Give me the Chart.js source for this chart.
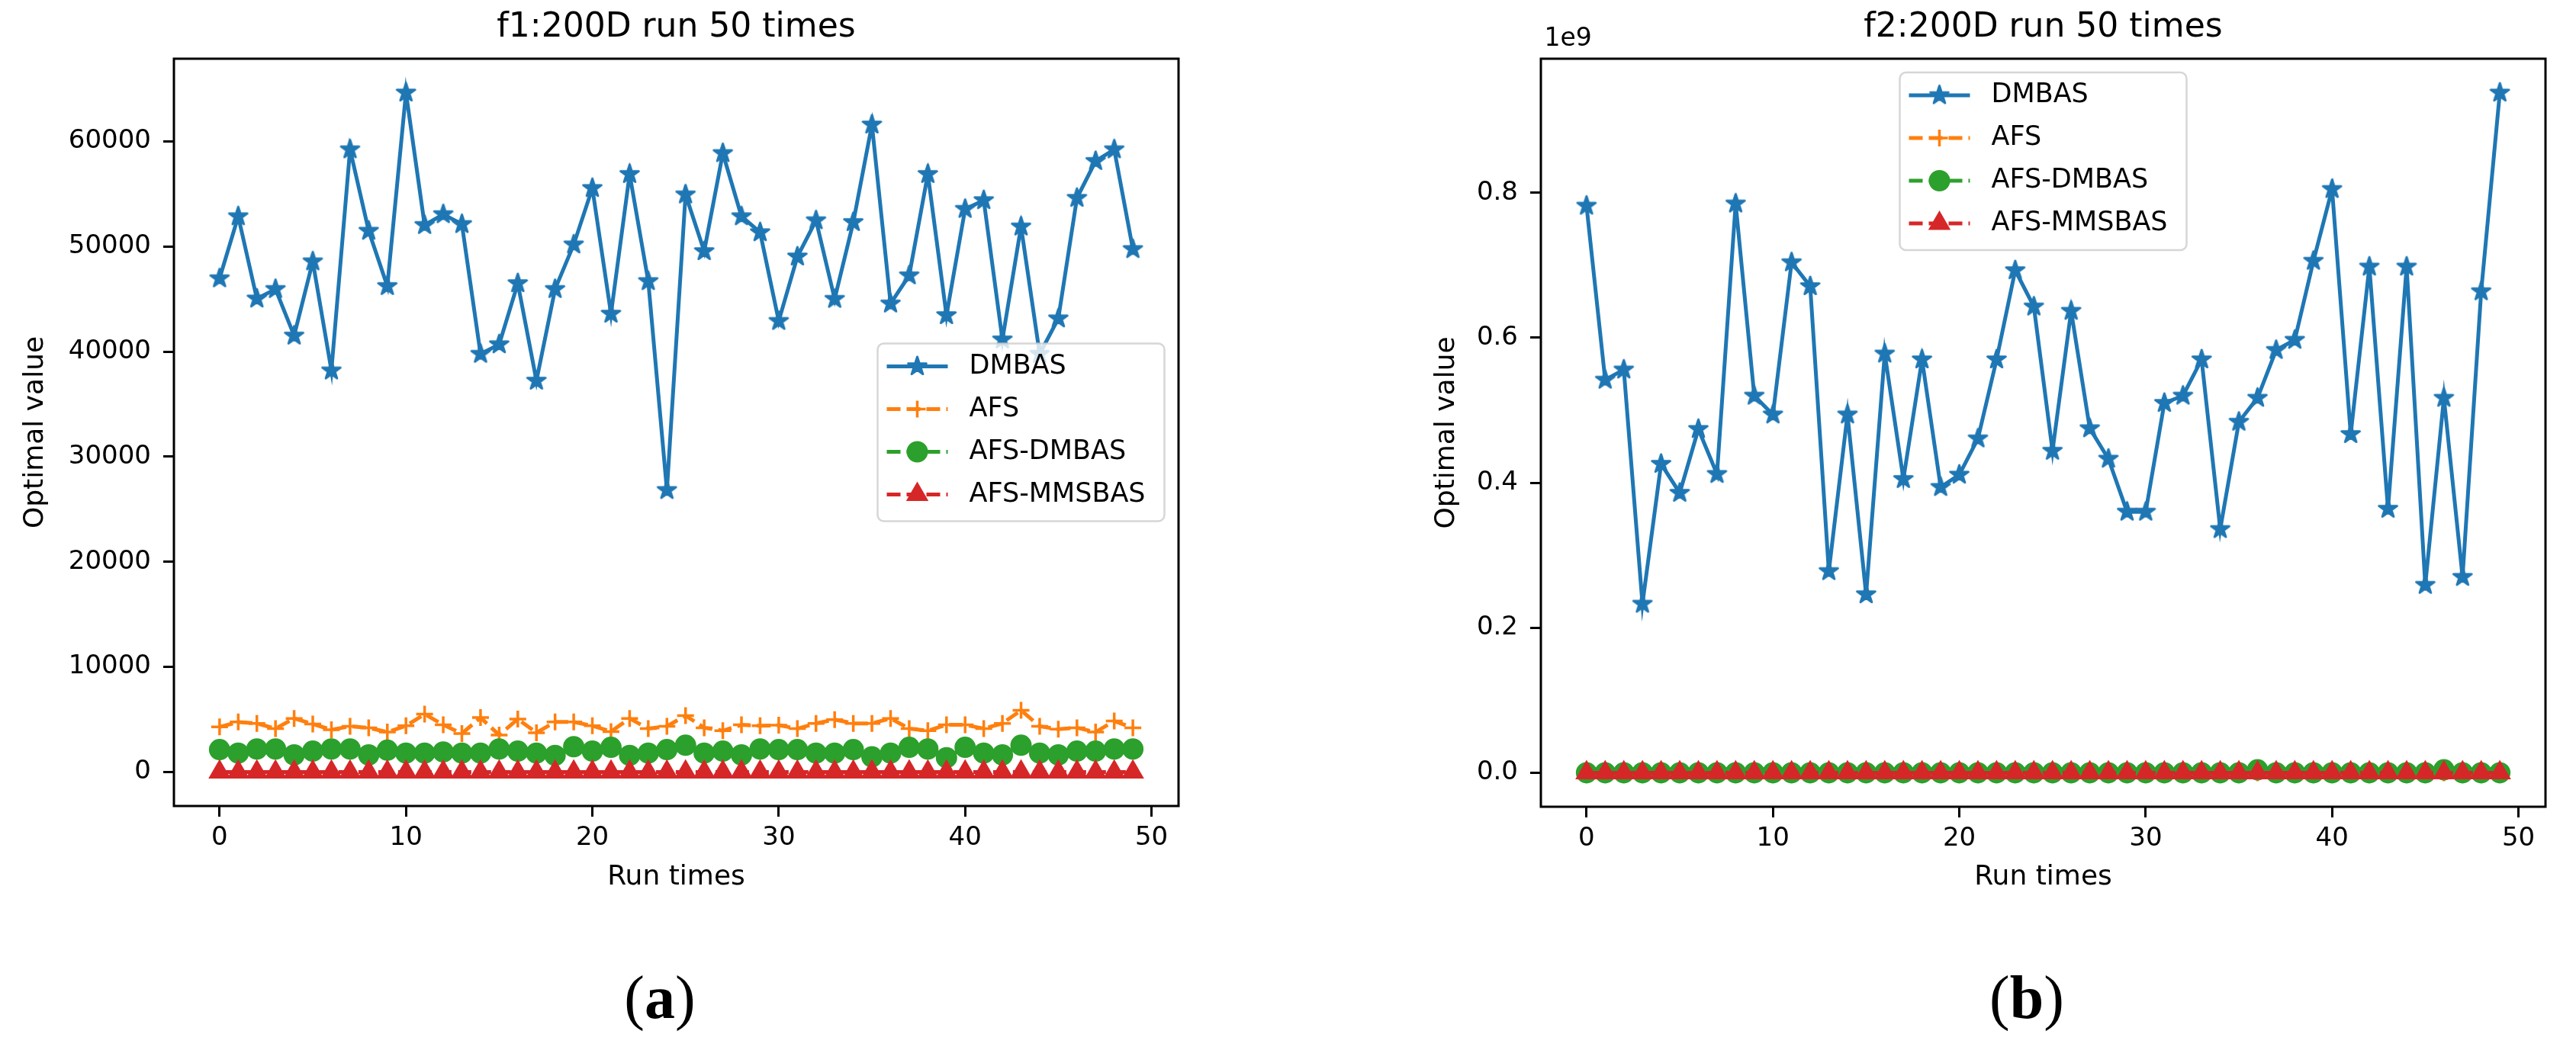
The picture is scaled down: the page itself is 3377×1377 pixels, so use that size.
<!DOCTYPE html>
<html>
<head>
<meta charset="utf-8">
<script src="https://cdn.jsdelivr.net/npm/chart.js@4.4.1/dist/chart.umd.min.js"></script>
<style>
  body { margin: 0; background: #fff; width: 3377px; height: 1377px; position: relative; overflow: hidden; }
  canvas { position: absolute; top: 0; }
  #c1 { left: 0; }
  #c2 { left: 1700px; }
  .cap { position: absolute; top: 1268px; width: 200px; text-align: center; font-family: "Liberation Serif", serif; font-size: 80px; line-height: 80px; color: #000; }
</style>
</head>
<body>
<canvas id="c1" width="1700" height="1200"></canvas>
<canvas id="c2" width="1677" height="1200"></canvas>
<div class="cap" style="left:765px">(<b>a</b>)</div>
<div class="cap" style="left:2557px">(<b>b</b>)</div>
<script>
const runs = [0, 1, 2, 3, 4, 5, 6, 7, 8, 9, 10, 11, 12, 13, 14, 15, 16, 17, 18, 19,
  20, 21, 22, 23, 24, 25, 26, 27, 28, 29, 30, 31, 32, 33, 34, 35, 36, 37, 38, 39,
  40, 41, 42, 43, 44, 45, 46, 47, 48, 49];
const seriesNames = ["DMBAS", "AFS", "AFS-DMBAS", "AFS-MMSBAS"];

// f1, 200D
const f1Dmbas = [46970, 52870, 45040, 45950, 41520, 48580, 38200, 59240, 51490, 46230,
  64640, 52040, 53070, 52130, 39780, 40690, 46500, 37230, 45950, 50190,
  55560, 43600, 56890, 46700, 26820, 54950, 49550, 58880, 52870, 51350,
  42910, 49040, 52490, 45010, 52320, 61600, 44570, 47250, 56890, 43460,
  53570, 54400, 41150, 51900, 39780, 43150, 54620, 58130, 59240, 49750];
const f1Afs = [4290, 4760, 4630, 4130, 5100, 4570, 4020, 4350, 4210, 3800,
  4400, 5510, 4490, 3660, 5180, 3520, 5040, 3740, 4760, 4760,
  4400, 3850, 5100, 4130, 4350, 5370, 4210, 3930, 4490, 4400,
  4450, 4130, 4630, 4990, 4630, 4630, 5100, 4130, 3930, 4490,
  4490, 4130, 4630, 5870, 4350, 4070, 4210, 3800, 4850, 4210];
const f1AfsDmbas = [2130, 1800, 2190, 2190, 1630, 1990, 2190, 2190, 1630, 2080,
  1800, 1800, 1910, 1800, 1800, 2190, 1990, 1800, 1580, 2410,
  1990, 2350, 1580, 1800, 2130, 2550, 1800, 1990, 1630, 2190,
  2130, 2130, 1800, 1800, 2130, 1440, 1800, 2350, 2190, 1360,
  2350, 1800, 1630, 2550, 1800, 1630, 1990, 1990, 2190, 2190];
const f1AfsMmsbas = [0, 0, 0, 0, 0, 0, 0, 0, 0, 0,
  0, 0, 0, 0, 0, 0, 0, 0, 0, 0,
  0, 0, 0, 0, 0, 0, 0, 0, 0, 0,
  0, 0, 0, 0, 0, 0, 0, 0, 0, 0,
  0, 0, 0, 0, 0, 0, 0, 0, 0, 0];

// f2, 200D (values in units of 1e9)
const f2Dmbas = [0.782, 0.542, 0.556, 0.233, 0.426, 0.386, 0.474, 0.412, 0.785, 0.520,
  0.494, 0.704, 0.671, 0.278, 0.494, 0.246, 0.578, 0.405, 0.570, 0.394,
  0.411, 0.461, 0.570, 0.693, 0.643, 0.444, 0.637, 0.475, 0.433, 0.360,
  0.360, 0.510, 0.520, 0.570, 0.336, 0.484, 0.517, 0.583, 0.597, 0.706,
  0.805, 0.467, 0.698, 0.364, 0.698, 0.259, 0.517, 0.270, 0.664, 0.938];
const f2Afs = [0, 0, 0, 0, 0, 0, 0, 0, 0, 0,
  0, 0, 0, 0, 0, 0, 0, 0, 0, 0,
  0, 0, 0, 0, 0, 0, 0, 0, 0, 0,
  0, 0, 0, 0, 0, 0, 0, 0, 0, 0,
  0, 0, 0, 0, 0, 0, 0, 0, 0, 0];
const f2AfsDmbas = [0, 0, 0, 0, 0, 0, 0, 0, 0, 0,
  0, 0, 0, 0, 0, 0, 0, 0, 0, 0,
  0, 0, 0, 0, 0, 0, 0, 0, 0, 0,
  0, 0, 0, 0, 0, 0, 0.004, 0, 0, 0,
  0, 0, 0, 0, 0, 0, 0.004, 0, 0, 0];
const f2AfsMmsbas = [0, 0, 0, 0, 0, 0, 0, 0, 0, 0,
  0, 0, 0, 0, 0, 0, 0, 0, 0, 0,
  0, 0, 0, 0, 0, 0, 0, 0, 0, 0,
  0, 0, 0, 0, 0, 0, 0, 0, 0, 0,
  0, 0, 0, 0, 0, 0, 0, 0, 0, 0];

const xTicks = [0, 10, 20, 30, 40, 50];
const f1YTicks = [0, 10000, 20000, 30000, 40000, 50000, 60000];
const f2YTicks = [0, 0.2, 0.4, 0.6, 0.8];

const colors = ["#1f77b4", "#ff7f0e", "#2ca02c", "#d62728"];
const FONT = "'DejaVu Sans', sans-serif";

// filled five point star like matplotlib '*'
function makeStar(r, color) {
  const size = Math.ceil(r * 2 + 8);
  const c = document.createElement("canvas");
  c.width = size;
  c.height = size;
  const ctx = c.getContext("2d");
  ctx.translate(size / 2, size / 2);
  ctx.beginPath();
  for (let k = 0; k < 10; k++) {
    const rad = k % 2 === 0 ? r : r * 0.382;
    const a = -Math.PI / 2 + k * Math.PI / 5;
    ctx.lineTo(Math.cos(a) * rad, Math.sin(a) * rad);
  }
  ctx.closePath();
  ctx.fillStyle = color;
  ctx.fill();
  ctx.strokeStyle = color;
  ctx.lineWidth = 3;
  ctx.lineJoin = "round";
  ctx.stroke();
  return c;
}

const markers = [
  { style: makeStar(12.5, colors[0]), radius: 12, border: 2, dash: [] },
  { style: "cross", radius: 11, border: 3.5, dash: [18, 8] },
  { style: "circle", radius: 13, border: 2, dash: [18, 8] },
  { style: "triangle", radius: 15, border: 2, dash: [18, 8] }
];

function padRange(arrs) {
  const all = [].concat(...arrs);
  const lo = Math.min(...all), hi = Math.max(...all);
  const m = (hi - lo) * 0.05;
  return [lo - m, hi + m];
}

function makeDatasets(series) {
  return series.map((vals, k) => ({
    label: seriesNames[k],
    data: vals.map((v, i) => ({ x: runs[i], y: v })),
    borderColor: colors[k],
    backgroundColor: colors[k],
    borderWidth: 5,
    borderDash: markers[k].dash,
    pointStyle: markers[k].style,
    pointRadius: markers[k].radius,
    pointBorderWidth: markers[k].border,
    pointBackgroundColor: colors[k],
    pointBorderColor: colors[k],
    tension: 0,
    order: 4 - k
  }));
}

function drawLegend(chart, loc) {
  const { ctx, chartArea: a } = chart;
  const w = 376, h = 233;
  let left, top;
  if (loc === "center right") {
    left = a.right - 18.5 - w;
    top = (a.top + a.bottom) / 2 - h / 2;
  } else {
    left = (a.left + a.right) / 2 - w / 2;
    top = a.top + 18;
  }
  ctx.save();
  ctx.beginPath();
  ctx.roundRect(left, top, w, h, 8);
  ctx.fillStyle = "rgba(255,255,255,0.8)";
  ctx.fill();
  ctx.strokeStyle = "rgba(204,204,204,0.8)";
  ctx.lineWidth = 2.5;
  ctx.stroke();

  chart.data.datasets.forEach((ds, k) => {
    const y = top + 30 + 56 * k;
    const x0 = left + 12, x1 = left + 92;
    ctx.setLineDash(markers[k].dash);
    ctx.strokeStyle = colors[k];
    ctx.lineWidth = 5;
    ctx.beginPath();
    ctx.moveTo(x0, y);
    ctx.lineTo(x1, y);
    ctx.stroke();
    ctx.setLineDash([]);
    ctx.fillStyle = colors[k];
    ctx.lineWidth = markers[k].border;
    if (Chart.helpers && Chart.helpers.drawPoint) {
      Chart.helpers.drawPoint(ctx, { pointStyle: markers[k].style, radius: markers[k].radius, borderWidth: markers[k].border, rotation: 0 }, (x0 + x1) / 2, y);
    }
    ctx.fillStyle = "#000";
    ctx.font = "35px " + FONT;
    ctx.textAlign = "left";
    ctx.textBaseline = "middle";
    ctx.fillText(ds.label, left + 120, y);
  });
  ctx.restore();
}

const framePlugin = {
  id: "frame",
  afterDraw(chart, args, opts) {
    const { ctx, chartArea: a } = chart;
    ctx.save();
    ctx.strokeStyle = "#000";
    ctx.lineWidth = 3;
    ctx.strokeRect(a.left, a.top, a.right - a.left, a.bottom - a.top);
    if (opts.offsetText) {
      ctx.fillStyle = "#000";
      ctx.font = "33px " + FONT;
      ctx.textAlign = "left";
      ctx.textBaseline = "alphabetic";
      ctx.fillText(opts.offsetText, a.left + 4.5, a.top - 17);
    }
    ctx.restore();
    drawLegend(chart, opts.legendLoc);
  }
};

function makeChart(id, title, series, yTicks, yFmt, cfg) {
  const xr = padRange([runs]);
  const yr = padRange(series);
  return new Chart(document.getElementById(id), {
    type: "line",
    data: { datasets: makeDatasets(series) },
    plugins: [framePlugin],
    options: {
      responsive: false,
      animation: false,
      devicePixelRatio: 1,
      events: [],
      layout: { padding: { left: 0, right: cfg.padRight, top: 0, bottom: 0 } },
      plugins: {
        legend: { display: false },
        tooltip: { enabled: false },
        title: {
          display: true,
          text: title,
          fullSize: false,
          color: "#000",
          font: { family: FONT, size: 44, weight: "normal" },
          padding: { top: 10.4, bottom: 13.8 }
        },
        frame: { legendLoc: cfg.legendLoc, offsetText: cfg.offsetText }
      },
      scales: {
        x: {
          type: "linear",
          position: "bottom",
          bounds: "data",
          min: xr[0],
          max: xr[1],
          afterBuildTicks: s => { s.ticks = xTicks.map(v => ({ value: v })); },
          afterFit: s => { s.height = cfg.xHeight; },
          grid: { display: true, drawOnChartArea: false, drawTicks: true, tickLength: 14, tickWidth: 3, tickColor: "#000" },
          border: { display: false },
          ticks: { color: "#000", font: { family: FONT, size: 34 }, padding: 8, maxRotation: 0, autoSkip: false, callback: v => String(v) },
          title: { display: true, text: "Run times", color: "#000", font: { family: FONT, size: 36 }, padding: { top: 0, bottom: 28 } }
        },
        y: {
          type: "linear",
          position: "left",
          bounds: "data",
          min: yr[0],
          max: yr[1],
          afterBuildTicks: s => { s.ticks = yTicks.map(v => ({ value: v })); },
          afterFit: s => { s.width = cfg.yWidth; },
          grid: { display: true, drawOnChartArea: false, drawTicks: true, tickLength: 14, tickWidth: 3, tickColor: "#000" },
          border: { display: false },
          ticks: { color: "#000", font: { family: FONT, size: 34 }, padding: 16, autoSkip: false, callback: yFmt },
          title: { display: true, text: "Optimal value", color: "#000", font: { family: FONT, size: 36 }, padding: { top: cfg.yTitlePad, bottom: 0 } }
        }
      }
    }
  });
}

makeChart("c1", "f1:200D run 50 times", [f1Dmbas, f1Afs, f1AfsDmbas, f1AfsMmsbas], f1YTicks,
  v => String(v), { padRight: 155, yWidth: 228, xHeight: 143, yTitlePad: 25, legendLoc: "center right" });
makeChart("c2", "f2:200D run 50 times", [f2Dmbas, f2Afs, f2AfsDmbas, f2AfsMmsbas], f2YTicks,
  v => v.toFixed(1), { padRight: 40, yWidth: 320, xHeight: 142, yTitlePad: 175, legendLoc: "upper center", offsetText: "1e9" });
</script>
</body>
</html>
